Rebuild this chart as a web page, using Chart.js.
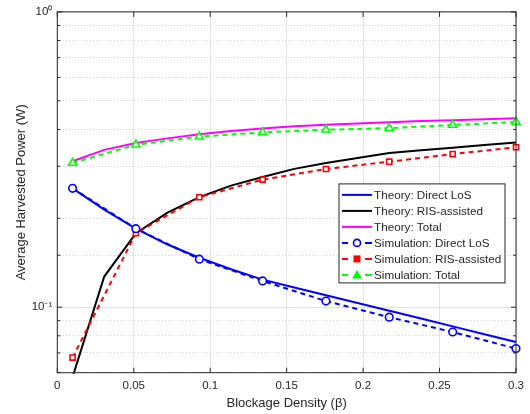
<!DOCTYPE html>
<html><head><meta charset="utf-8">
<script src="https://cdn.jsdelivr.net/npm/chart.js@4.4.0/dist/chart.umd.min.js"></script>
<style>html,body{margin:0;padding:0;background:#fff;}#wrap{width:530px;height:414px;}</style>
</head><body><div id="wrap"><canvas id="c" width="530" height="414"></canvas></div>
<script>
// Blockage density values
const theoryX = [0.01, 0.0307, 0.0514, 0.0721, 0.0929, 0.1136, 0.1343, 0.155, 0.1757, 0.1964, 0.2171, 0.2379, 0.2586, 0.2793, 0.3];
const simX = [0.01, 0.0514, 0.0929, 0.1343, 0.1757, 0.2171, 0.2586, 0.3];
// Theory curves
const theoryDirect = [0.2527, 0.214, 0.1845, 0.163, 0.147, 0.1344, 0.124, 0.1166, 0.1097, 0.1033, 0.0972, 0.0915, 0.0861, 0.081, 0.0762];
const theoryRIS = [0.058, 0.127, 0.178, 0.209, 0.236, 0.258, 0.276, 0.294, 0.308, 0.320, 0.333, 0.340, 0.347, 0.354, 0.361];
const theoryTotal = [0.312, 0.341, 0.360, 0.373, 0.385, 0.395, 0.403, 0.410, 0.415, 0.419, 0.423, 0.427, 0.430, 0.433, 0.436];
// Simulation points
const simDirect = [0.2527, 0.1845, 0.1454, 0.1227, 0.1049, 0.0925, 0.0824, 0.0724];
const simRIS = [0.0675, 0.178, 0.2357, 0.2704, 0.2938, 0.311, 0.330, 0.348];
const simTotal = [0.308, 0.355, 0.378, 0.391, 0.399, 0.404, 0.414, 0.424];
// Axis ticks
const xTicks = [0, 0.05, 0.1, 0.15, 0.2, 0.25, 0.3];
const yTickLabels = {1: '10\u2070', 0.1: '10\u207B\u00B9'};
const seriesLabels = ['Theory: Direct LoS', 'Theory: RIS-assisted', 'Theory: Total',
  'Simulation: Direct LoS', 'Simulation: RIS-assisted', 'Simulation: Total'];

const pts = (xs, ys) => xs.map((x, i) => ({x: x, y: ys[i]}));
const FONT = '"Liberation Sans", Arial, Helvetica, sans-serif';
const TXT = '#262626';

function theory(label, data, color) {
  return {label, data: pts(theoryX, data), borderColor: color, backgroundColor: color,
    borderWidth: 2, pointRadius: 0, tension: 0, order: 2, clip: 1};
}
function sim(label, data, color, style, r) {
  return {label, data: pts(simX, data), borderColor: color, backgroundColor: '#ffffff',
    borderWidth: 2, borderDash: [5, 4], pointStyle: style, pointRadius: r,
    pointBorderWidth: 1.6, pointBorderColor: color, pointBackgroundColor: '#ffffff',
    tension: 0, order: 1, clip: 8};
}

const isMajor = v => Math.abs(Math.log10(v) - Math.round(Math.log10(v))) < 1e-9;

const framePlugin = {
  id: 'frame',
  afterDraw(chart) {
    const {ctx, chartArea: a, scales: {x, y}} = chart;
    ctx.save();
    ctx.strokeStyle = TXT; ctx.lineWidth = 1;
    ctx.strokeRect(a.left, a.top, a.right - a.left, a.bottom - a.top);
    ctx.beginPath();
    y.ticks.forEach(t => {
      const p = y.getPixelForValue(t.value);
      const len = isMajor(t.value) ? 5 : 3;
      ctx.moveTo(a.left, p); ctx.lineTo(a.left + len, p);
      ctx.moveTo(a.right, p); ctx.lineTo(a.right - len, p);
    });
    x.ticks.forEach(t => {
      const p = x.getPixelForValue(t.value);
      ctx.moveTo(p, a.bottom); ctx.lineTo(p, a.bottom - 5);
      ctx.moveTo(p, a.top); ctx.lineTo(p, a.top + 5);
    });
    ctx.stroke();

    // legend
    const lx = a.right - 177, ly = a.top + 172, lw = 166, lh = 99;
    ctx.fillStyle = '#ffffff';
    ctx.fillRect(lx, ly, lw, lh);
    ctx.strokeStyle = TXT; ctx.lineWidth = 1;
    ctx.strokeRect(lx, ly, lw, lh);
    chart.data.datasets.forEach((ds, i) => {
      const cy = ly + 11 + i * 16;
      ctx.strokeStyle = ds.borderColor; ctx.lineWidth = 2; ctx.setLineDash([]);
      ctx.beginPath();
      if (i < 3) {
        ctx.moveTo(lx + 3, cy); ctx.lineTo(lx + 33, cy);
      } else {
        ctx.moveTo(lx + 3, cy); ctx.lineTo(lx + 9, cy);
        ctx.moveTo(lx + 26, cy); ctx.lineTo(lx + 33, cy);
      }
      ctx.stroke();
      if (i >= 3) {
        ctx.fillStyle = ds.borderColor; ctx.lineWidth = 1.6;
        const mx = lx + 18;
        ctx.beginPath();
        if (ds.pointStyle === 'circle') {
          ctx.arc(mx, cy, 3.5, 0, Math.PI * 2); ctx.fillStyle = '#fff'; ctx.fill(); ctx.stroke();
        } else if (ds.pointStyle === 'rect') {
          ctx.rect(mx - 3.5, cy - 3.5, 7, 7); ctx.fill();
        } else {
          ctx.moveTo(mx, cy - 5); ctx.lineTo(mx + 5, cy + 3.5); ctx.lineTo(mx - 5, cy + 3.5); ctx.closePath(); ctx.fill();
        }
      }
      ctx.fillStyle = TXT; ctx.font = '11.7px ' + FONT;
      ctx.textAlign = 'left'; ctx.textBaseline = 'middle';
      ctx.fillText(ds.label, lx + 35, cy + 0.5);
    });
    ctx.restore();
  }
};

new Chart(document.getElementById('c'), {
  type: 'line',
  data: {
    datasets: [
      theory(seriesLabels[0], theoryDirect, '#0000ff'),
      theory(seriesLabels[1], theoryRIS, '#000000'),
      theory(seriesLabels[2], theoryTotal, '#ff00ff'),
      sim(seriesLabels[3], simDirect, '#0000ff', 'circle', 3.8),
      sim(seriesLabels[4], simRIS, '#ff0000', 'rect', 3.6),
      sim(seriesLabels[5], simTotal, '#00ff00', 'triangle', 4.6)
    ]
  },
  options: {
    responsive: false, animation: false, devicePixelRatio: 1,
    layout: {padding: {left: 0, right: 14, top: 11.3, bottom: 0}},
    plugins: {legend: {display: false}, tooltip: {enabled: false}},
    scales: {
      x: {
        type: 'linear', min: 0, max: 0.3,
        afterBuildTicks: s => { s.ticks = xTicks.map(v => ({value: v})); },
        afterFit: s => { s.height = 41.3; },
        ticks: {font: {family: FONT, size: 11.5}, color: TXT, padding: 6,
          callback: v => String(v)},
        grid: {color: '#e3e3e3', lineWidth: 1, drawTicks: false},
        border: {display: false},
        title: {display: true, text: 'Blockage Density (\u03B2)', color: TXT,
          font: {family: FONT, size: 13}, padding: {top: 0, bottom: 3}}
      },
      y: {
        type: 'logarithmic', min: 0.06, max: 1,
        afterFit: s => { s.width = 57.3; },
        ticks: {font: {family: FONT, size: 11.5}, color: TXT, padding: 5, autoSkip: false,
          callback: v => (Math.abs(v - 1) < 1e-9 ? yTickLabels[1] : (Math.abs(v - 0.1) < 1e-9 ? yTickLabels[0.1] : ''))},
        grid: {color: ctx => (ctx.tick && isMajor(ctx.tick.value)) ? '#e0e0e0' : '#d4d4d4',
          lineWidth: 1, drawTicks: false},
        border: {display: false, dash: ctx => (ctx.tick && isMajor(ctx.tick.value)) ? [] : [1, 2]},
        title: {display: true, text: 'Average Harvested Power (W)', color: TXT,
          font: {family: FONT, size: 13}, padding: {top: 14, bottom: 0}}
      }
    }
  },
  plugins: [framePlugin]
});
</script></body></html>
